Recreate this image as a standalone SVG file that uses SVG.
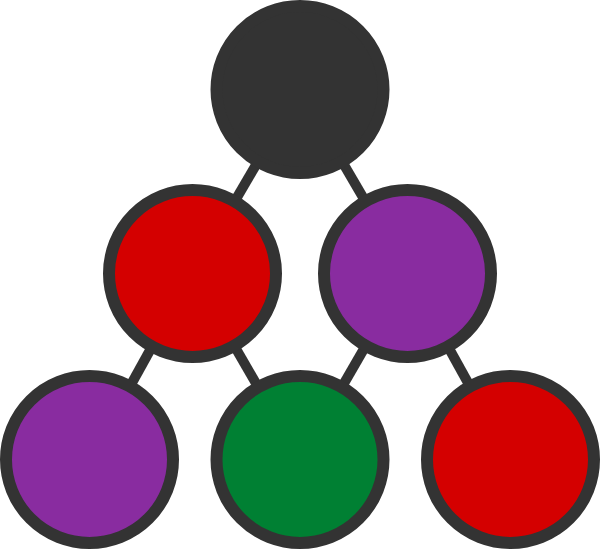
<svg xmlns="http://www.w3.org/2000/svg" width="600" height="549" viewBox="0 0 600 549">
<style>
.edge{stroke:#333333;stroke-width:10;fill:none}
.n{stroke:#333333;stroke-width:12}
.red{fill:#d40000}
.purple{fill:#892ca0}
.green{fill:#008033}
.dark{fill:#333333}
</style>
<rect width="600" height="549" fill="#ffffff"/>
<g id="connectors">
<line class="edge" x1="300" y1="89.5" x2="192.5" y2="273.5"/>
<line class="edge" x1="300" y1="89.5" x2="407.5" y2="273.5"/>
<line class="edge" x1="192.5" y1="273.5" x2="89.5" y2="459.5"/>
<line class="edge" x1="192.5" y1="273.5" x2="300" y2="459.5"/>
<line class="edge" x1="407.5" y1="273.5" x2="300" y2="459.5"/>
<line class="edge" x1="407.5" y1="273.5" x2="510.5" y2="459.5"/>
</g>
<g id="root"><circle class="n dark" cx="300" cy="89.5" r="83.5"/></g>
<g id="mid-left"><circle class="n red" cx="192.5" cy="273.5" r="83.5"/></g>
<g id="mid-right"><circle class="n purple" cx="407.5" cy="273.5" r="83.5"/></g>
<g id="bottom-left"><circle class="n purple" cx="89.5" cy="459.5" r="83.5"/></g>
<g id="bottom-middle"><circle class="n green" cx="300" cy="459.5" r="83.5"/></g>
<g id="bottom-right"><circle class="n red" cx="510.5" cy="459.5" r="83.5"/></g>
</svg>
